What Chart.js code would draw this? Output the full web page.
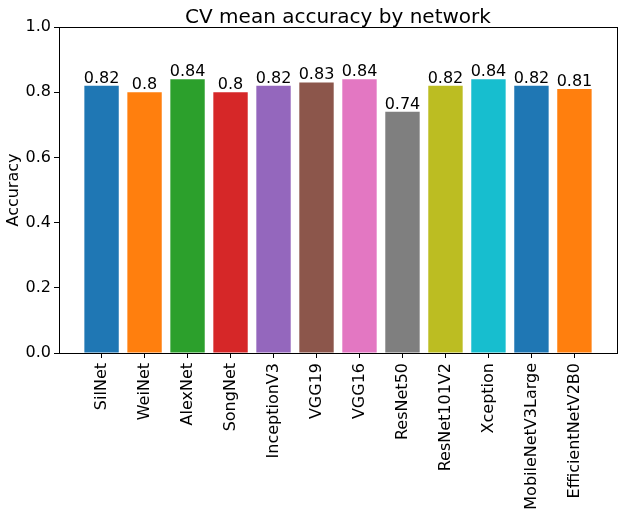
<!DOCTYPE html>
<html>
<head>
<meta charset="utf-8">
<script src="https://cdn.jsdelivr.net/npm/chart.js@4/dist/chart.umd.min.js"></script>
<style>
  body { margin: 0; background: #fff; }
</style>
</head>
<body>
<canvas id="accChart" width="623" height="515"></canvas>
<script>
// === Data ===
const networks = [
  "SilNet", "WeiNet", "AlexNet", "SongNet", "InceptionV3", "VGG19",
  "VGG16", "ResNet50", "ResNet101V2", "Xception", "MobileNetV3Large", "EfficientNetV2B0",
];
const accuracy = [0.82, 0.8, 0.84, 0.8, 0.82, 0.83, 0.84, 0.74, 0.82, 0.84, 0.82, 0.81];
const barColors = [
  "#1f77b4", "#ff7f0e", "#2ca02c", "#d62728", "#9467bd", "#8c564b",
  "#e377c2", "#7f7f7f", "#bcbd22", "#17becf", "#1f77b4", "#ff7f0e",
];
const yTicks = [0, 0.2, 0.4, 0.6, 0.8, 1.0];
const chartTitle = "CV mean accuracy by network";

Chart.defaults.font.family = "'DejaVu Sans', sans-serif";
Chart.defaults.color = "#000";

// value labels above each bar
const barLabels = {
  id: "barLabels",
  afterDatasetsDraw(chart) {
    const ctx = chart.ctx;
    const meta = chart.getDatasetMeta(0);
    ctx.save();
    ctx.font = "16px 'DejaVu Sans'";
    ctx.fillStyle = "#000";
    ctx.textAlign = "center";
    ctx.textBaseline = "alphabetic";
    meta.data.forEach((bar, i) => {
      ctx.fillText(String(accuracy[i]), bar.x, bar.y - 3);
    });
    ctx.restore();
  },
};

// box around the plot area + title centred over it (like matplotlib)
const frame = {
  id: "frame",
  afterDraw(chart) {
    const a = chart.chartArea;
    const ctx = chart.ctx;
    ctx.save();
    ctx.strokeStyle = "#000";
    ctx.lineWidth = 1;
    ctx.strokeRect(a.left + 0.5, a.top + 0.5, a.right - a.left, a.bottom - a.top);
    ctx.font = "20px 'DejaVu Sans'";
    ctx.fillStyle = "#000";
    ctx.textAlign = "center";
    ctx.textBaseline = "alphabetic";
    ctx.fillText(chartTitle, (a.left + a.right) / 2, a.top - 4);
    ctx.restore();
  },
};

new Chart(document.getElementById("accChart"), {
  type: "bar",
  data: {
    datasets: [
      {
        data: accuracy.map((v, i) => ({ x: i, y: v })),
        backgroundColor: barColors,
        borderWidth: 0,
        inflateAmount: 0,
        categoryPercentage: 1,
        barPercentage: 0.8,
      },
    ],
  },
  options: {
    responsive: false,
    animation: false,
    layout: { padding: { left: 0, right: 6, top: 27, bottom: 0 } },
    plugins: {
      legend: { display: false },
      tooltip: { enabled: false },
      title: { display: false },
    },
    scales: {
      x: {
        type: "linear",
        offset: false,
        min: -0.99,
        max: 11.99,
        afterBuildTicks: (axis) => {
          axis.ticks = networks.map((_, i) => ({ value: i }));
        },
        afterFit: (scale) => {
          scale.height = 162;
        },
        ticks: {
          autoSkip: false,
          maxRotation: 90,
          minRotation: 90,
          padding: 5,
          font: { size: 16 },
          callback: (v) => networks[v],
        },
        grid: {
          display: true,
          offset: false,
          drawOnChartArea: false,
          tickLength: 5,
          color: "#000",
        },
        border: { display: false },
      },
      y: {
        min: 0,
        max: 1,
        afterBuildTicks: (axis) => {
          axis.ticks = yTicks.map((v) => ({ value: v }));
        },
        afterFit: (scale) => {
          scale.width = 59;
        },
        ticks: {
          padding: 3,
          font: { size: 16 },
          callback: (v) => v.toFixed(1),
        },
        grid: { display: true, drawOnChartArea: false, tickLength: 5, color: "#000" },
        border: { display: false },
        title: {
          display: true,
          text: "Accuracy",
          font: { size: 16 },
          padding: { top: 4, bottom: 0 },
        },
      },
    },
  },
  plugins: [barLabels, frame],
});
</script>
</body>
</html>
